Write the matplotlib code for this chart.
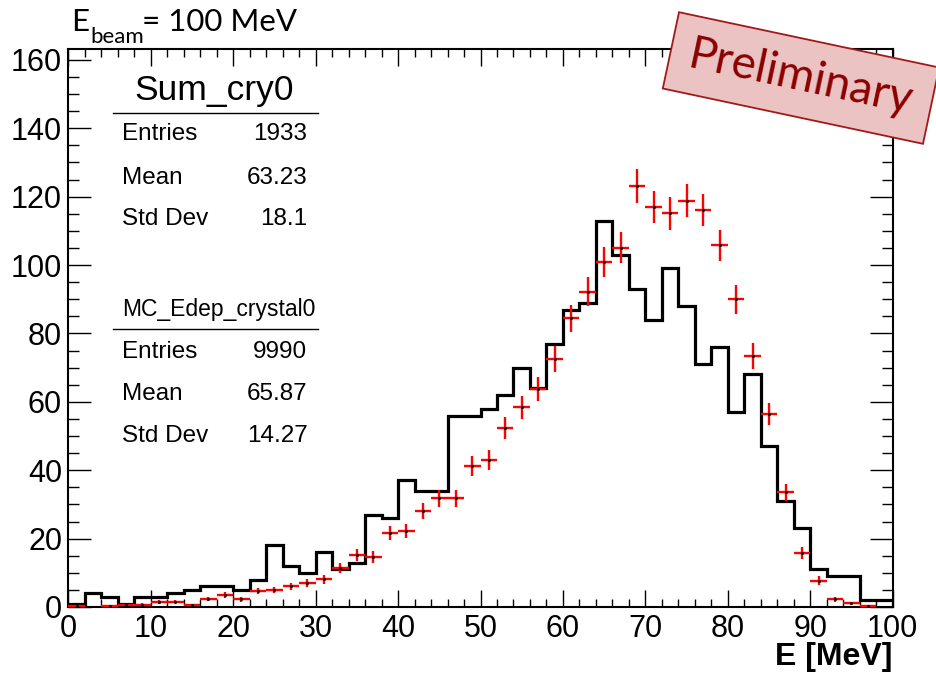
import numpy as np
import matplotlib
matplotlib.use("Agg")
import matplotlib.pyplot as plt
from matplotlib.patches import Rectangle
from matplotlib.transforms import Affine2D

# --- histogram data (50 bins of 2 MeV between 0 and 100 MeV) ---
e_min, e_max, n_bins = 0, 100, 50

# Sum_cry0 (measured, black line)
data_counts = [1, 4, 3, 1, 3, 3, 4, 5, 6, 6,
               5, 8, 18, 12, 10, 16, 11, 13, 27, 26,
               37, 34, 34, 56, 56, 58, 62, 70, 64, 77,
               87, 89, 113, 103, 93, 84, 99, 88, 71, 76,
               57, 68, 47, 31, 23, 11, 9, 9, 2, 2]

# MC_Edep_crystal0 (scaled MC, red crosses)
mc_counts = [0.4, 0, 0.2, 0.5, 0.7, 1.4, 1.6, 0.6, 2.3, 3.6,
             2.2, 4.6, 5.0, 6.0, 6.9, 8.1, 11.3, 15.2, 14.7, 21.7,
             22.2, 28.1, 31.8, 31.8, 41.2, 43.0, 52.3, 58.4, 63.7, 72.5,
             84.4, 92.2, 100.8, 105.1, 123.1, 117.0, 115.1, 118.8, 116.1, 105.8,
             90.0, 73.5, 56.4, 33.5, 15.7, 7.7, 2.2, 1.1, 0.3, 0]
mc_errors = [0.28, 0, 0.2, 0.31, 0.37, 0.52, 0.56, 0.34, 0.67, 0.83,
             0.65, 0.94, 0.98, 1.08, 1.16, 1.25, 1.48, 1.71, 1.69, 2.05,
             2.07, 2.33, 2.48, 2.48, 2.82, 2.88, 3.18, 3.36, 3.51, 3.75,
             4.04, 4.22, 4.42, 4.51, 4.88, 4.76, 4.72, 4.79, 4.74, 4.52,
             4.17, 3.77, 3.30, 2.55, 1.74, 1.22, 0.65, 0.46, 0.24, 0]

# stat boxes
stat_titles = ["Sum_cry0", "MC_Edep_crystal0"]
stat_labels = ["Entries", "Mean", "Std Dev"]
stat_values = [["1933", "63.23", "18.1"], ["9990", "65.87", "14.27"]]

W, H = 936, 674
plt.rcParams['font.family'] = ['Liberation Sans', 'DejaVu Sans']


def px(x, y):
    # pixel position (from top-left) -> figure fraction
    return x / W, 1 - y / H


fig = plt.figure(figsize=(W / 100, H / 100), dpi=100)
ax = fig.add_axes([68.3 / W, (H - 607) / H, 824.4 / W, 557.7 / H])

edges = np.linspace(e_min, e_max, n_bins + 1)
centers = 0.5 * (edges[:-1] + edges[1:])
half_w = 0.5 * (edges[1] - edges[0])

ax.stairs(data_counts, edges, color='black', lw=2.3, zorder=3)

mc = np.array(mc_counts)
err = np.array(mc_errors)
keep = mc > 0
ax.errorbar(centers[keep], mc[keep], yerr=err[keep], xerr=half_w,
            fmt='none', ecolor='red', elinewidth=1.7, capsize=0, zorder=4)
ax.plot(centers[keep], mc[keep], ls='none', marker='s', ms=1.0,
        color='black', zorder=5)

ax.set_xlim(e_min, e_max)
ax.set_ylim(0, 163.1)
ax.set_xticks(np.arange(0, 101, 10))
ax.set_xticks(np.arange(0, 101, 2), minor=True)
ax.set_yticks(np.arange(0, 161, 20))
ax.set_yticks(np.arange(0, 161, 5), minor=True)
ax.tick_params(axis='both', which='both', direction='in', top=True, right=True,
               width=1.0, labelsize=22)
ax.tick_params(axis='x', which='major', length=12.2, pad=5)
ax.tick_params(axis='x', which='minor', length=5.8)
ax.tick_params(axis='y', which='major', length=16.6, pad=4.5)
ax.tick_params(axis='y', which='minor', length=7.9)
for s in ax.spines.values():
    s.set_linewidth(1.5)

fig.text(*px(892, 665), "E [MeV]", ha='right', va='baseline',
         fontsize=23, fontweight='bold')

# title (slide annotation): E_beam= 100 MeV
fig.text(*px(71, 31), "E", ha='left', va='baseline', fontsize=22.5, family='Lato')
fig.text(*px(90, 43), "beam", ha='left', va='baseline', fontsize=16, family='Lato')
fig.text(*px(142, 31), "= 100 MeV", ha='left', va='baseline', fontsize=22.5,
         family='Lato')

# stat boxes
fig.text(*px(214, 100), stat_titles[0], ha='center', va='baseline', fontsize=25.5)
fig.add_artist(plt.Line2D([113.3 / W, 318.3 / W], [1 - 112.7 / H] * 2,
                          color='black', lw=1.0))
fig.text(*px(122.5, 316), stat_titles[1], ha='left', va='baseline', fontsize=16.5)
fig.add_artist(plt.Line2D([113.3 / W, 318.3 / W], [1 - 329 / H] * 2,
                          color='black', lw=1.0))
row_y = [[140.5, 183.5, 225], [357.5, 400.5, 442.5]]
for b in range(2):
    for lab, val, y in zip(stat_labels, stat_values[b], row_y[b]):
        fig.text(*px(122.5, y), lab, ha='left', va='baseline', fontsize=17.5)
        fig.text(*px(307.5, y), val, ha='right', va='baseline', fontsize=17.5)

# "Preliminary" stamp
cx, cy = 801 / 100, (H - 78) / 100
rot = -12
box = Rectangle((cx - 1.33, cy - 0.39), 2.66, 0.78, facecolor='#ebc3c3',
                edgecolor='#a01a1a', lw=1.3,
                transform=Affine2D().rotate_deg_around(cx, cy, rot) + fig.dpi_scale_trans)
fig.add_artist(box)
fig.text(cx * 100 / W, cy * 100 / H, "Preliminary", rotation=rot,
         rotation_mode='anchor', ha='center', va='center', fontsize=33,
         color='#8b0000', family='Lato')

fig.savefig("out.png", dpi=100)
